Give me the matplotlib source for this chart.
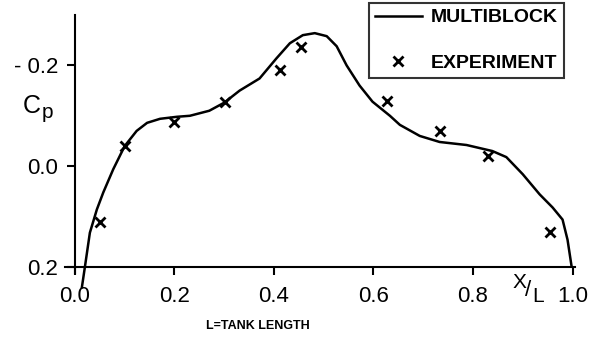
import matplotlib
matplotlib.use("Agg")
import matplotlib.pyplot as plt

# Curve (MULTIBLOCK)
curve_x = [0.014, 0.02, 0.03, 0.044, 0.057, 0.077, 0.10, 0.124, 0.145, 0.171, 0.205, 0.231,
           0.27, 0.30, 0.331, 0.371, 0.405, 0.432, 0.458, 0.482, 0.506, 0.526, 0.546,
           0.572, 0.598, 0.633, 0.653, 0.693, 0.733, 0.787, 0.839, 0.867, 0.90, 0.934,
           0.96, 0.98, 0.99, 0.998]
curve_cp = [0.24, 0.20, 0.132, 0.086, 0.052, 0.006, -0.04, -0.07, -0.086, -0.094, -0.098, -0.10,
            -0.11, -0.126, -0.15, -0.174, -0.214, -0.244, -0.26, -0.264, -0.258, -0.238, -0.2,
            -0.16, -0.128, -0.1, -0.082, -0.06, -0.048, -0.042, -0.03, -0.018, 0.016, 0.056,
            0.082, 0.106, 0.146, 0.198]

# Experiment points
exp_x = [0.05, 0.10, 0.20, 0.301, 0.413, 0.454, 0.628, 0.733, 0.831, 0.955]
exp_cp = [0.11, -0.04, -0.087, -0.128, -0.19, -0.236, -0.13, -0.069, -0.021, 0.13]

xticks = [0.0, 0.2, 0.4, 0.6, 0.8, 1.0]
xtick_labels = ["0.0", "0.2", "0.4", "0.6", "0.8", "1.0"]
yticks = [-0.2, 0.0, 0.2]
ytick_labels = ["- 0.2", "0.0", "0.2"]

plt.rcParams['font.family'] = ['Liberation Sans', 'DejaVu Sans']

fig = plt.figure(figsize=(5.89, 3.58), dpi=100)
ax = fig.add_axes([65/589, 1-273/358, 510/589, 258/358])

ax.plot(curve_x, curve_cp, color='black', lw=1.8, label='MULTIBLOCK', zorder=3,
        solid_joinstyle='round', clip_on=False)
ax.plot(exp_x, exp_cp, linestyle='none', marker='x', color='black', ms=7, mew=2,
        label='EXPERIMENT', zorder=4)

ax.set_xlim(-0.02, 1.005)
ax.set_ylim(0.212, -0.30)

for s in ['top', 'right']:
    ax.spines[s].set_visible(False)
ax.spines['left'].set_position(('data', 0.0))
ax.spines['bottom'].set_position(('data', 0.2))
ax.spines['left'].set_linewidth(1.5)
ax.spines['bottom'].set_linewidth(1.5)

ax.set_xticks(xticks)
ax.set_xticklabels(xtick_labels)
ax.set_yticks(yticks)
ax.set_yticklabels(ytick_labels)
ax.tick_params(axis='both', direction='out', length=6, width=1.5, labelsize=16)
ax.tick_params(axis='x', pad=8)
ax.tick_params(axis='y', pad=6)

fig.text(32/589, 1-106/358, 'C', fontsize=18, ha='center', va='center')
fig.text(47/589, 1-112/358, 'p', fontsize=15, ha='center', va='center')
fig.text(519/589, 1-283/358, 'X', fontsize=15, ha='center', va='center')
fig.text(528/589, 1-290/358, '/', fontsize=16, ha='center', va='center')
fig.text(538/589, 1-296/358, 'L', fontsize=15, ha='center', va='center')
fig.text(258/589, 1-326/358, 'L=TANK LENGTH', fontsize=9, fontweight='bold',
         ha='center', va='center')

leg = ax.legend(loc='upper left', bbox_to_anchor=(369/589, 1-78/358, 195/589, 75/358),
                bbox_transform=fig.transFigure, mode='expand', borderaxespad=0,
                frameon=True, fancybox=False, edgecolor='black',
                handlelength=2.4, borderpad=0.3, labelspacing=1.45, handletextpad=0.5,
                prop={'weight': 'bold', 'size': 14})
leg.get_frame().set_linewidth(1.5)

fig.savefig('out.png', dpi=100)
